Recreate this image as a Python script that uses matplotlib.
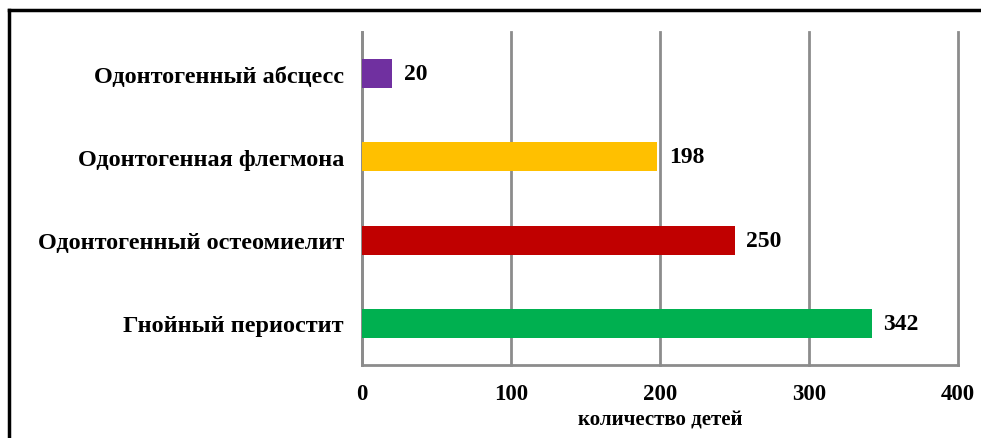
import matplotlib.pyplot as plt
from matplotlib.lines import Line2D

# data (bottom to top)
categories = ["Гнойный периостит", "Одонтогенный остеомиелит",
              "Одонтогенная флегмона", "Одонтогенный абсцесс"]
counts = [342, 250, 198, 20]
colors = ["#00B050", "#C00000", "#FFC000", "#7030A0"]
x_ticks = [0, 100, 200, 300, 400]
x_label = "количество детей"

plt.rcParams['font.family'] = ['Liberation Serif', 'DejaVu Serif']
plt.rcParams['font.weight'] = 'bold'

fig = plt.figure(figsize=(9.81, 4.39), dpi=100)
ax = fig.add_axes([362 / 981, 1 - 366 / 439, 596 / 981, 333 / 439])

pos = range(len(categories))
ax.barh(pos, counts, height=0.35, color=colors, zorder=3)
for y, v in zip(pos, counts):
    ax.text(v + 8, y, str(v), va='center', ha='left', fontsize=17, fontweight='bold')

ax.set_xlim(0, 400)
ax.set_ylim(-0.5, len(categories) - 0.5)
ax.set_xticks(x_ticks)
ax.set_xticklabels([str(t) for t in x_ticks], fontsize=16.5, fontweight='bold')
ax.set_yticks(list(pos))
ax.set_yticklabels(categories, fontsize=17.5, fontweight='bold')
ax.tick_params(axis='y', length=0, pad=13)
ax.tick_params(axis='x', length=0, pad=13)
ax.set_xlabel(x_label, fontsize=15, fontweight='bold', labelpad=4)

ax.grid(axis='x', color='#8c8c8c', linewidth=2, zorder=0)
for gl in ax.get_xgridlines():
    gl.set_clip_on(False)
for s in ['top', 'right']:
    ax.spines[s].set_visible(False)
ax.spines['left'].set_color('#8c8c8c')
ax.spines['left'].set_linewidth(2)
ax.spines['bottom'].set_color('#8c8c8c')
ax.spines['bottom'].set_linewidth(2)

# outer frame (top and left edges)
fig.add_artist(Line2D([9 / 981, 1], [1 - 11 / 439, 1 - 11 / 439], color='black', lw=2.5))
fig.add_artist(Line2D([9 / 981, 9 / 981], [0, 1 - 11 / 439], color='black', lw=2.5))

fig.savefig("out.png", dpi=100)
